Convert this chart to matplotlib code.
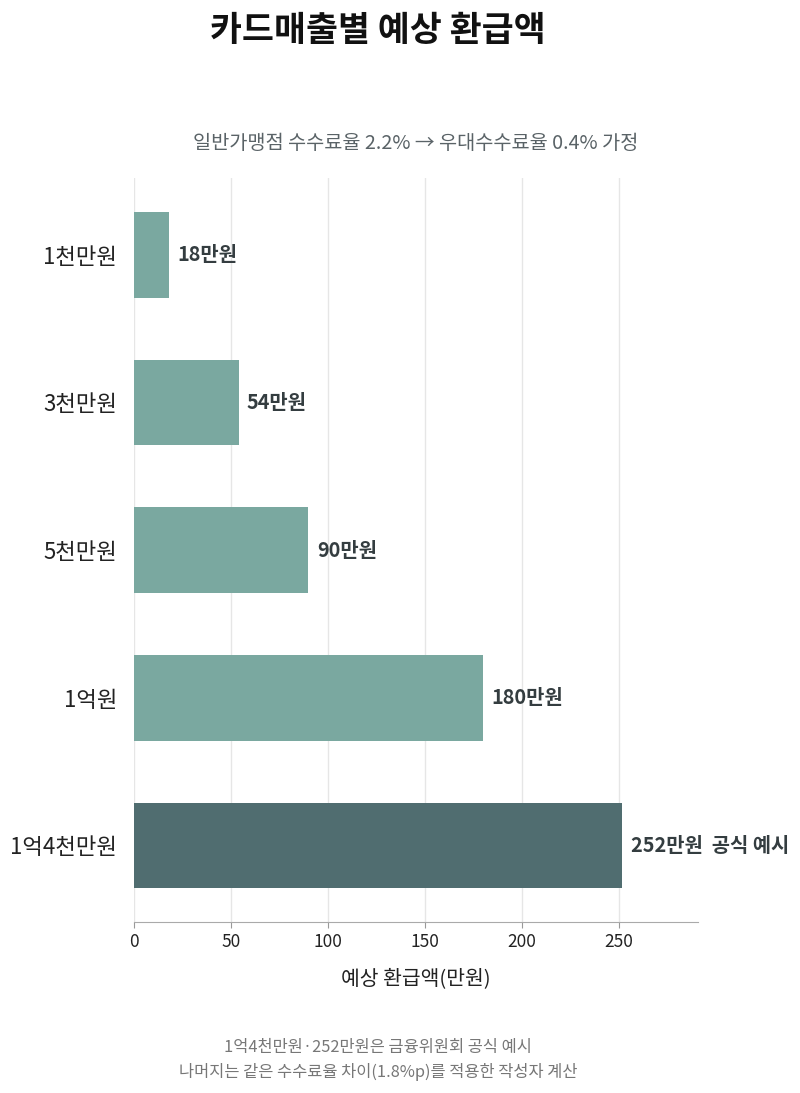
import numpy as np
import matplotlib.pyplot as plt

plt.rcParams['font.family'] = ['Noto Sans CJK KR', 'DejaVu Sans']

# data
categories = ["1천만원", "3천만원", "5천만원", "1억원", "1억4천만원"]
refunds = [18, 54, 90, 180, 252]
value_labels = ["18만원", "54만원", "90만원", "180만원", "252만원  공식 예시"]
highlight = [False, False, False, False, True]

LIGHT = "#7aa8a0"
DARK = "#506d70"
TEXT = "#343d40"

fig = plt.figure(figsize=(8, 10.93), dpi=100)
ax = fig.add_axes([0.1675, 0.1564, 0.705, 0.6807])

y = np.arange(len(categories))
colors = [DARK if h else LIGHT for h in highlight]
ax.barh(y, refunds, height=0.58, color=colors, zorder=2)

for yi, v, lab in zip(y, refunds, value_labels):
    ax.annotate(lab, (v, yi), xytext=(6, 0), textcoords="offset points",
                va="center", ha="left", fontsize=14.3, fontweight="bold",
                color=TEXT)

ax.set_yticks(y)
ax.set_yticklabels(categories, fontsize=16, color="#222222")
ax.invert_yaxis()
ax.tick_params(axis="y", length=0, pad=12)

ax.set_xlim(0, 291)
ax.set_xticks([0, 50, 100, 150, 200, 250])
ax.tick_params(axis="x", labelsize=12.5, colors="#222222", length=4,
               color="#999999", pad=4)
ax.grid(axis="x", color="#e6e6e6", linewidth=1, zorder=0)
ax.set_axisbelow(True)

for s in ["top", "right", "left"]:
    ax.spines[s].set_visible(False)
ax.spines["bottom"].set_color("#aaaaaa")

ax.set_xlabel("예상 환급액(만원)", fontsize=14.7, color="#222222", labelpad=12)
ax.set_title("일반가맹점 수수료율 2.2% → 우대수수료율 0.4% 가정",
             fontsize=14.2, color="#5a6367", pad=21)

fig.text(0.472, 0.972, "카드매출별 예상 환급액", ha="center", va="center",
         fontsize=25, fontweight="bold", color="#111111")

fig.text(0.4725, 0.030,
         "1억4천만원·252만원은 금융위원회 공식 예시\n"
         "나머지는 같은 수수료율 차이(1.8%p)를 적용한 작성자 계산",
         ha="center", va="center", fontsize=11.8, color="#777777",
         linespacing=1.5)

fig.savefig("out.png", dpi=100)
